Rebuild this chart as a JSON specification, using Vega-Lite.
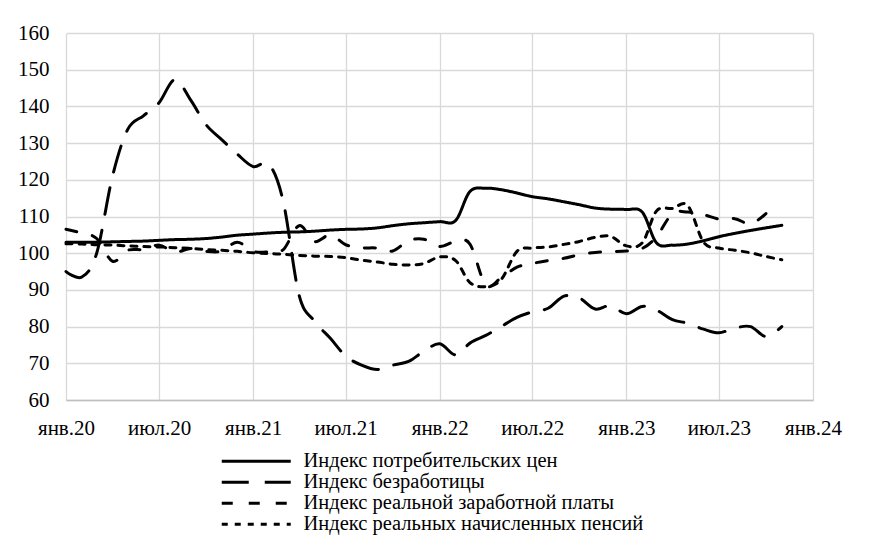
{
  "$schema": "https://vega.github.io/schema/vega-lite/v6.json",
  "width": 747,
  "height": 367,
  "autosize": "none",
  "padding": {"left": 66, "top": 33, "right": 56, "bottom": 145},
  "background": "white",
  "config": {
    "font": "Liberation Serif",
    "view": {"stroke": null},
    "axis": {"labelFont": "Liberation Serif", "labelFontSize": 21, "labelColor": "black", "gridColor": "#d9d9d9", "gridWidth": 1.3, "ticks": false, "title": null}
  },
  "data": {"values": [
    {"date":"2020/01/01","series":"Индекс потребительских цен","value":103.0},
    {"date":"2020/02/01","series":"Индекс потребительских цен","value":103.0},
    {"date":"2020/03/01","series":"Индекс потребительских цен","value":103.0},
    {"date":"2020/04/01","series":"Индекс потребительских цен","value":103.1},
    {"date":"2020/05/01","series":"Индекс потребительских цен","value":103.2},
    {"date":"2020/06/01","series":"Индекс потребительских цен","value":103.3},
    {"date":"2020/07/01","series":"Индекс потребительских цен","value":103.5},
    {"date":"2020/08/01","series":"Индекс потребительских цен","value":103.7},
    {"date":"2020/09/01","series":"Индекс потребительских цен","value":103.8},
    {"date":"2020/10/01","series":"Индекс потребительских цен","value":104.0},
    {"date":"2020/11/01","series":"Индекс потребительских цен","value":104.4},
    {"date":"2020/12/01","series":"Индекс потребительских цен","value":104.9},
    {"date":"2021/01/01","series":"Индекс потребительских цен","value":105.2},
    {"date":"2021/02/01","series":"Индекс потребительских цен","value":105.5},
    {"date":"2021/03/01","series":"Индекс потребительских цен","value":105.7},
    {"date":"2021/04/01","series":"Индекс потребительских цен","value":105.8},
    {"date":"2021/05/01","series":"Индекс потребительских цен","value":106.0},
    {"date":"2021/06/01","series":"Индекс потребительских цен","value":106.3},
    {"date":"2021/07/01","series":"Индекс потребительских цен","value":106.5},
    {"date":"2021/08/01","series":"Индекс потребительских цен","value":106.6},
    {"date":"2021/09/01","series":"Индекс потребительских цен","value":106.9},
    {"date":"2021/10/01","series":"Индекс потребительских цен","value":107.5},
    {"date":"2021/11/01","series":"Индекс потребительских цен","value":108.0},
    {"date":"2021/12/01","series":"Индекс потребительских цен","value":108.3},
    {"date":"2022/01/01","series":"Индекс потребительских цен","value":108.6},
    {"date":"2022/02/01","series":"Индекс потребительских цен","value":108.9},
    {"date":"2022/03/01","series":"Индекс потребительских цен","value":116.8},
    {"date":"2022/04/01","series":"Индекс потребительских цен","value":117.7},
    {"date":"2022/05/01","series":"Индекс потребительских цен","value":117.3},
    {"date":"2022/06/01","series":"Индекс потребительских цен","value":116.4},
    {"date":"2022/07/01","series":"Индекс потребительских цен","value":115.4},
    {"date":"2022/08/01","series":"Индекс потребительских цен","value":114.8},
    {"date":"2022/09/01","series":"Индекс потребительских цен","value":114.0},
    {"date":"2022/10/01","series":"Индекс потребительских цен","value":113.2},
    {"date":"2022/11/01","series":"Индекс потребительских цен","value":112.3},
    {"date":"2022/12/01","series":"Индекс потребительских цен","value":112.0},
    {"date":"2023/01/01","series":"Индекс потребительских цен","value":111.9},
    {"date":"2023/02/01","series":"Индекс потребительских цен","value":111.2},
    {"date":"2023/03/01","series":"Индекс потребительских цен","value":102.8},
    {"date":"2023/04/01","series":"Индекс потребительских цен","value":102.2},
    {"date":"2023/05/01","series":"Индекс потребительских цен","value":102.5},
    {"date":"2023/06/01","series":"Индекс потребительских цен","value":103.4},
    {"date":"2023/07/01","series":"Индекс потребительских цен","value":104.5},
    {"date":"2023/08/01","series":"Индекс потребительских цен","value":105.4},
    {"date":"2023/09/01","series":"Индекс потребительских цен","value":106.2},
    {"date":"2023/10/01","series":"Индекс потребительских цен","value":106.9},
    {"date":"2023/11/01","series":"Индекс потребительских цен","value":107.6},

    {"date":"2020/01/01","series":"Индекс безработицы","value":95.0},
    {"date":"2020/02/01","series":"Индекс безработицы","value":93.5},
    {"date":"2020/03/01","series":"Индекс безработицы","value":100.0},
    {"date":"2020/04/01","series":"Индекс безработицы","value":121.0},
    {"date":"2020/05/01","series":"Индекс безработицы","value":133.8},
    {"date":"2020/06/01","series":"Индекс безработицы","value":137.5},
    {"date":"2020/07/01","series":"Индекс безработицы","value":141.0},
    {"date":"2020/08/01","series":"Индекс безработицы","value":147.3},
    {"date":"2020/09/01","series":"Индекс безработицы","value":141.7},
    {"date":"2020/10/01","series":"Индекс безработицы","value":135.0},
    {"date":"2020/11/01","series":"Индекс безработицы","value":130.9},
    {"date":"2020/12/01","series":"Индекс безработицы","value":127.0},
    {"date":"2021/01/01","series":"Индекс безработицы","value":123.6},
    {"date":"2021/02/01","series":"Индекс безработицы","value":124.2},
    {"date":"2021/03/01","series":"Индекс безработицы","value":114.0},
    {"date":"2021/04/01","series":"Индекс безработицы","value":88.5},
    {"date":"2021/05/01","series":"Индекс безработицы","value":81.5},
    {"date":"2021/06/01","series":"Индекс безработицы","value":76.8},
    {"date":"2021/07/01","series":"Индекс безработицы","value":72.0},
    {"date":"2021/08/01","series":"Индекс безработицы","value":69.5},
    {"date":"2021/09/01","series":"Индекс безработицы","value":68.3},
    {"date":"2021/10/01","series":"Индекс безработицы","value":69.5},
    {"date":"2021/11/01","series":"Индекс безработицы","value":70.5},
    {"date":"2021/12/01","series":"Индекс безработицы","value":73.3},
    {"date":"2022/01/01","series":"Индекс безработицы","value":75.3},
    {"date":"2022/02/01","series":"Индекс безработицы","value":72.3},
    {"date":"2022/03/01","series":"Индекс безработицы","value":75.5},
    {"date":"2022/04/01","series":"Индекс безработицы","value":77.6},
    {"date":"2022/05/01","series":"Индекс безработицы","value":80.0},
    {"date":"2022/06/01","series":"Индекс безработицы","value":82.5},
    {"date":"2022/07/01","series":"Индекс безработицы","value":84.0},
    {"date":"2022/08/01","series":"Индекс безработицы","value":85.0},
    {"date":"2022/09/01","series":"Индекс безработицы","value":88.3},
    {"date":"2022/10/01","series":"Индекс безработицы","value":87.8},
    {"date":"2022/11/01","series":"Индекс безработицы","value":84.8},
    {"date":"2022/12/01","series":"Индекс безработицы","value":85.7},
    {"date":"2023/01/01","series":"Индекс безработицы","value":83.5},
    {"date":"2023/02/01","series":"Индекс безработицы","value":85.5},
    {"date":"2023/03/01","series":"Индекс безработицы","value":84.5},
    {"date":"2023/04/01","series":"Индекс безработицы","value":81.9},
    {"date":"2023/05/01","series":"Индекс безработицы","value":80.9},
    {"date":"2023/06/01","series":"Индекс безработицы","value":79.3},
    {"date":"2023/07/01","series":"Индекс безработицы","value":78.3},
    {"date":"2023/08/01","series":"Индекс безработицы","value":79.6},
    {"date":"2023/09/01","series":"Индекс безработицы","value":80.0},
    {"date":"2023/10/01","series":"Индекс безработицы","value":77.3},
    {"date":"2023/11/01","series":"Индекс безработицы","value":80.0},

    {"date":"2020/01/01","series":"Индекс реальной заработной платы","value":106.5},
    {"date":"2020/02/01","series":"Индекс реальной заработной платы","value":105.5},
    {"date":"2020/03/01","series":"Индекс реальной заработной платы","value":104.0},
    {"date":"2020/04/01","series":"Индекс реальной заработной платы","value":97.8},
    {"date":"2020/05/01","series":"Индекс реальной заработной платы","value":100.8},
    {"date":"2020/06/01","series":"Индекс реальной заработной платы","value":101.0},
    {"date":"2020/07/01","series":"Индекс реальной заработной платы","value":102.2},
    {"date":"2020/08/01","series":"Индекс реальной заработной платы","value":100.3},
    {"date":"2020/09/01","series":"Индекс реальной заработной платы","value":101.3},
    {"date":"2020/10/01","series":"Индекс реальной заработной платы","value":100.5},
    {"date":"2020/11/01","series":"Индекс реальной заработной платы","value":100.6},
    {"date":"2020/12/01","series":"Индекс реальной заработной платы","value":103.0},
    {"date":"2021/01/01","series":"Индекс реальной заработной платы","value":100.5},
    {"date":"2021/02/01","series":"Индекс реальной заработной платы","value":100.4},
    {"date":"2021/03/01","series":"Индекс реальной заработной платы","value":101.0},
    {"date":"2021/04/01","series":"Индекс реальной заработной платы","value":107.5},
    {"date":"2021/05/01","series":"Индекс реальной заработной платы","value":103.2},
    {"date":"2021/06/01","series":"Индекс реальной заработной платы","value":105.0},
    {"date":"2021/07/01","series":"Индекс реальной заработной платы","value":102.3},
    {"date":"2021/08/01","series":"Индекс реальной заработной платы","value":101.5},
    {"date":"2021/09/01","series":"Индекс реальной заработной платы","value":101.4},
    {"date":"2021/10/01","series":"Индекс реальной заработной платы","value":100.6},
    {"date":"2021/11/01","series":"Индекс реальной заработной платы","value":103.4},
    {"date":"2021/12/01","series":"Индекс реальной заработной платы","value":103.8},
    {"date":"2022/01/01","series":"Индекс реальной заработной платы","value":101.8},
    {"date":"2022/02/01","series":"Индекс реальной заработной платы","value":103.2},
    {"date":"2022/03/01","series":"Индекс реальной заработной платы","value":102.5},
    {"date":"2022/04/01","series":"Индекс реальной заработной платы","value":91.3},
    {"date":"2022/05/01","series":"Индекс реальной заработной платы","value":93.3},
    {"date":"2022/06/01","series":"Индекс реальной заработной платы","value":96.2},
    {"date":"2022/07/01","series":"Индекс реальной заработной платы","value":97.2},
    {"date":"2022/08/01","series":"Индекс реальной заработной платы","value":98.0},
    {"date":"2022/09/01","series":"Индекс реальной заработной платы","value":98.6},
    {"date":"2022/10/01","series":"Индекс реальной заработной платы","value":99.6},
    {"date":"2022/11/01","series":"Индекс реальной заработной платы","value":100.2},
    {"date":"2022/12/01","series":"Индекс реальной заработной платы","value":100.4},
    {"date":"2023/01/01","series":"Индекс реальной заработной платы","value":100.6},
    {"date":"2023/02/01","series":"Индекс реальной заработной платы","value":101.3},
    {"date":"2023/03/01","series":"Индекс реальной заработной платы","value":104.5},
    {"date":"2023/04/01","series":"Индекс реальной заработной платы","value":110.8},
    {"date":"2023/05/01","series":"Индекс реальной заработной платы","value":111.2},
    {"date":"2023/06/01","series":"Индекс реальной заработной платы","value":110.5},
    {"date":"2023/07/01","series":"Индекс реальной заработной платы","value":109.3},
    {"date":"2023/08/01","series":"Индекс реальной заработной платы","value":109.4},
    {"date":"2023/09/01","series":"Индекс реальной заработной платы","value":108.0},
    {"date":"2023/10/01","series":"Индекс реальной заработной платы","value":110.8},

    {"date":"2020/01/01","series":"Индекс реальных начисленных пенсий","value":102.6},
    {"date":"2020/02/01","series":"Индекс реальных начисленных пенсий","value":102.5},
    {"date":"2020/03/01","series":"Индекс реальных начисленных пенсий","value":102.3},
    {"date":"2020/04/01","series":"Индекс реальных начисленных пенсий","value":102.2},
    {"date":"2020/05/01","series":"Индекс реальных начисленных пенсий","value":102.0},
    {"date":"2020/06/01","series":"Индекс реальных начисленных пенсий","value":101.8},
    {"date":"2020/07/01","series":"Индекс реальных начисленных пенсий","value":101.7},
    {"date":"2020/08/01","series":"Индекс реальных начисленных пенсий","value":101.5},
    {"date":"2020/09/01","series":"Индекс реальных начисленных пенсий","value":101.3},
    {"date":"2020/10/01","series":"Индекс реальных начисленных пенсий","value":101.0},
    {"date":"2020/11/01","series":"Индекс реальных начисленных пенсий","value":100.8},
    {"date":"2020/12/01","series":"Индекс реальных начисленных пенсий","value":100.5},
    {"date":"2021/01/01","series":"Индекс реальных начисленных пенсий","value":100.1},
    {"date":"2021/02/01","series":"Индекс реальных начисленных пенсий","value":99.9},
    {"date":"2021/03/01","series":"Индекс реальных начисленных пенсий","value":99.7},
    {"date":"2021/04/01","series":"Индекс реальных начисленных пенсий","value":99.4},
    {"date":"2021/05/01","series":"Индекс реальных начисленных пенсий","value":99.2},
    {"date":"2021/06/01","series":"Индекс реальных начисленных пенсий","value":99.1},
    {"date":"2021/07/01","series":"Индекс реальных начисленных пенсий","value":98.8},
    {"date":"2021/08/01","series":"Индекс реальных начисленных пенсий","value":98.1},
    {"date":"2021/09/01","series":"Индекс реальных начисленных пенсий","value":97.6},
    {"date":"2021/10/01","series":"Индекс реальных начисленных пенсий","value":97.0},
    {"date":"2021/11/01","series":"Индекс реальных начисленных пенсий","value":96.8},
    {"date":"2021/12/01","series":"Индекс реальных начисленных пенсий","value":97.2},
    {"date":"2022/01/01","series":"Индекс реальных начисленных пенсий","value":99.0},
    {"date":"2022/02/01","series":"Индекс реальных начисленных пенсий","value":98.0},
    {"date":"2022/03/01","series":"Индекс реальных начисленных пенсий","value":92.0},
    {"date":"2022/04/01","series":"Индекс реальных начисленных пенсий","value":90.9},
    {"date":"2022/05/01","series":"Индекс реальных начисленных пенсий","value":92.8},
    {"date":"2022/06/01","series":"Индекс реальных начисленных пенсий","value":100.5},
    {"date":"2022/07/01","series":"Индекс реальных начисленных пенсий","value":101.4},
    {"date":"2022/08/01","series":"Индекс реальных начисленных пенсий","value":101.7},
    {"date":"2022/09/01","series":"Индекс реальных начисленных пенсий","value":102.4},
    {"date":"2022/10/01","series":"Индекс реальных начисленных пенсий","value":103.2},
    {"date":"2022/11/01","series":"Индекс реальных начисленных пенсий","value":104.3},
    {"date":"2022/12/01","series":"Индекс реальных начисленных пенсий","value":104.6},
    {"date":"2023/01/01","series":"Индекс реальных начисленных пенсий","value":102.0},
    {"date":"2023/02/01","series":"Индекс реальных начисленных пенсий","value":102.8},
    {"date":"2023/03/01","series":"Индекс реальных начисленных пенсий","value":111.5},
    {"date":"2023/04/01","series":"Индекс реальных начисленных пенсий","value":112.2},
    {"date":"2023/05/01","series":"Индекс реальных начисленных пенсий","value":113.0},
    {"date":"2023/06/01","series":"Индекс реальных начисленных пенсий","value":103.0},
    {"date":"2023/07/01","series":"Индекс реальных начисленных пенсий","value":101.4},
    {"date":"2023/08/01","series":"Индекс реальных начисленных пенсий","value":100.8},
    {"date":"2023/09/01","series":"Индекс реальных начисленных пенсий","value":100.1},
    {"date":"2023/10/01","series":"Индекс реальных начисленных пенсий","value":99.1},
    {"date":"2023/11/01","series":"Индекс реальных начисленных пенсий","value":98.2}
  ]},
  "mark": {"type": "line", "interpolate": "cardinal", "color": "black", "strokeWidth": 3, "strokeCap": "round"},
  "encoding": {
    "x": {
      "field": "date", "type": "temporal",
      "scale": {"domain": [{"year": 2020, "month": 1, "date": 1}, {"year": 2024, "month": 1, "date": 1}]},
      "axis": {
        "values": [
          {"year": 2020, "month": 1, "date": 1}, {"year": 2020, "month": 7, "date": 1},
          {"year": 2021, "month": 1, "date": 1}, {"year": 2021, "month": 7, "date": 1},
          {"year": 2022, "month": 1, "date": 1}, {"year": 2022, "month": 7, "date": 1},
          {"year": 2023, "month": 1, "date": 1}, {"year": 2023, "month": 7, "date": 1},
          {"year": 2024, "month": 1, "date": 1}
        ],
        "labelExpr": "(month(datum.value) == 0 ? 'янв.' : 'июл.') + timeFormat(datum.value, '%y')",
        "labelPadding": 17, "labelFlush": false, "labelOverlap": false,
        "domainColor": "#bfbfbf", "domainWidth": 1.3
      }
    },
    "y": {
      "field": "value", "type": "quantitative",
      "scale": {"domain": [60, 160], "nice": false, "zero": false},
      "axis": {"values": [60, 70, 80, 90, 100, 110, 120, 130, 140, 150, 160], "labelPadding": 17, "domain": false}
    },
    "strokeDash": {
      "field": "series", "type": "nominal",
      "scale": {
        "domain": ["Индекс потребительских цен", "Индекс безработицы", "Индекс реальной заработной платы", "Индекс реальных начисленных пенсий"],
        "range": [[1, 0], [27, 16], [11, 16], [6, 7]]
      },
      "legend": {
        "orient": "none", "legendX": 180, "legendY": 418, "direction": "vertical",
        "title": null, "padding": 0, "rowPadding": 0,
        "symbolType": "M-4.3125,0H4.3125", "symbolSize": 256, "symbolStrokeWidth": 3, "symbolStrokeColor": "black", "symbolFillColor": "transparent",
        "labelFont": "Liberation Serif", "labelFontSize": 20.5, "labelColor": "black", "labelOffset": 37, "labelLimit": 500
      }
    }
  }
}
